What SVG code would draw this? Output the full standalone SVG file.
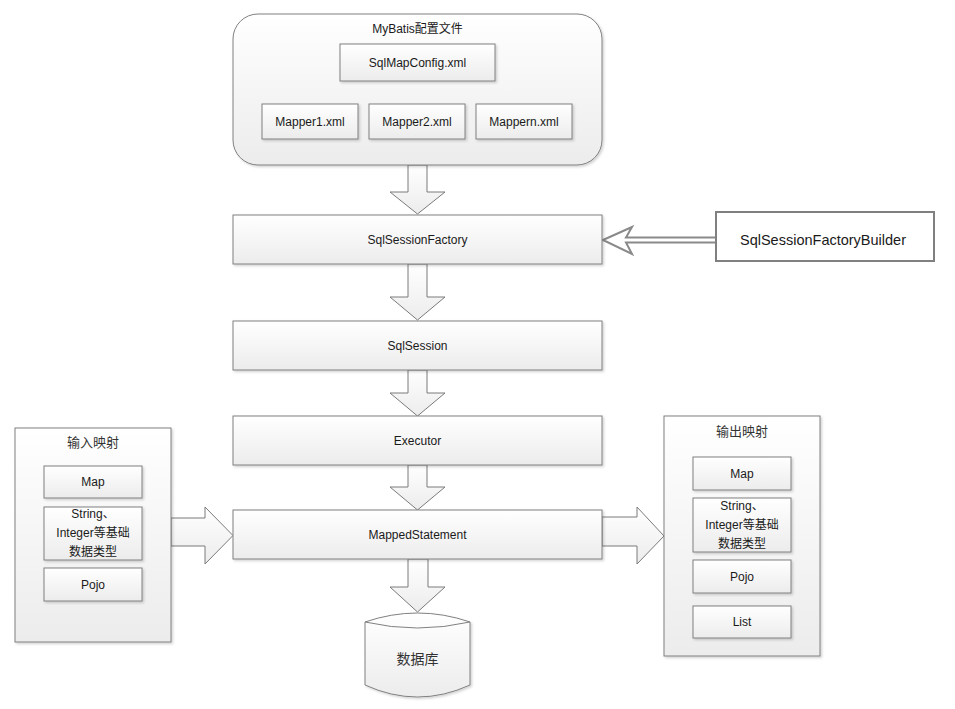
<svg xmlns="http://www.w3.org/2000/svg" width="955" height="709" viewBox="0 0 955 709">
<defs>
<linearGradient id="g" x1="0" y1="0" x2="0" y2="1">
<stop offset="0" stop-color="#ffffff"/>
<stop offset="1" stop-color="#ececec"/>
</linearGradient>
<linearGradient id="gh" x1="0" y1="0" x2="1" y2="0">
<stop offset="0" stop-color="#fdfdfd"/>
<stop offset="1" stop-color="#ededed"/>
</linearGradient>
<filter id="sh" x="-5%" y="-5%" width="115%" height="115%">
<feDropShadow dx="1.5" dy="1.5" stdDeviation="1" flood-color="#000" flood-opacity="0.18"/>
</filter>
</defs>
<style>
.box{fill:url(#g);stroke:#808080;stroke-width:1;filter:url(#sh)}
.arr{fill:url(#g);stroke:#7a7a7a;stroke-width:1;stroke-linejoin:miter}
.t{font-family:"Liberation Sans","Noto Sans CJK SC",sans-serif;font-size:12px;fill:#1a1a1a;text-anchor:middle}
.cn{font-family:"Noto Sans CJK SC","Liberation Sans",sans-serif;font-size:13px;fill:#333;text-anchor:middle}
</style>
<rect width="955" height="709" fill="#ffffff"/>

<g id="connectors">
<polygon class="arr" points="408,165 427,165 427,192 445,192 417.5,214 390,192 408,192"/>
<polygon class="arr" points="408,264 427,264 427,297 445,297 417.5,320 390,297 408,297"/>
<polygon class="arr" points="408,370 427,370 427,393 445,393 417.5,416 390,393 408,393"/>
<polygon class="arr" points="408,465 427,465 427,487 445,487 417.5,510 390,487 408,487"/>
<polygon class="arr" points="408,559 428,559 428,587 445,587 417.5,612 390,587 408,587"/>
<polygon class="arr" points="171,518 205,518 205,507 233,535.5 205,564 205,546 171,546"/>
<polygon class="arr" points="602,517 637,517 637,507 664,536 637,564 637,546 602,546"/>
<polygon points="603,240 632,227 626,237.5 716,237.5 716,242.5 626,242.5 632,254" fill="#ffffff" stroke="#8a8a8a" stroke-width="2" stroke-linejoin="miter"/>
</g>

<g id="config">
<rect class="box" x="233" y="14" width="369" height="151" rx="25" ry="25"/>
<text class="t" x="417.5" y="33">MyBatis配置文件</text>
</g>
<g id="sqlmapconfig">
<rect class="box" x="340" y="44" width="155" height="37"/>
<text class="t" x="417.5" y="67">SqlMapConfig.xml</text>
</g>
<g id="mapper1">
<rect class="box" x="262" y="104" width="96" height="35"/>
<text class="t" x="310" y="126">Mapper1.xml</text>
</g>
<g id="mapper2">
<rect class="box" x="369" y="104" width="96" height="35"/>
<text class="t" x="417" y="126">Mapper2.xml</text>
</g>
<g id="mappern">
<rect class="box" x="476" y="104" width="96" height="35"/>
<text class="t" x="524" y="126">Mappern.xml</text>
</g>

<g id="sqlsessionfactory">
<rect class="box" x="233" y="215" width="369" height="49"/>
<text class="t" x="417.5" y="244">SqlSessionFactory</text>
</g>
<g id="builder">
<rect x="716" y="212" width="218" height="49" fill="#ffffff" stroke="#808080" stroke-width="2"/>
<text class="t" x="823" y="245" style="font-size:14.5px">SqlSessionFactoryBuilder</text>
</g>
<g id="sqlsession">
<rect class="box" x="233" y="321" width="369" height="49"/>
<text class="t" x="417.5" y="350">SqlSession</text>
</g>
<g id="executor">
<rect class="box" x="233" y="416" width="369" height="49"/>
<text class="t" x="417.5" y="445">Executor</text>
</g>
<g id="mappedstatement">
<rect class="box" x="233" y="510" width="369" height="49"/>
<text class="t" x="417.5" y="539">MappedStatement</text>
</g>

<g id="database">
<path d="M365,622 Q417.5,604 470,622 L470,685 Q417.5,709 365,685 Z" fill="url(#g)" stroke="#808080" stroke-width="1" filter="url(#sh)"/>
<path d="M365,622 Q417.5,634 470,622" fill="none" stroke="#808080" stroke-width="1"/>
<text class="cn" x="417.5" y="664" style="font-size:14px">数据库</text>
</g>

<g id="input">
<rect class="box" x="15" y="428" width="156" height="214"/>
<text class="cn" x="93" y="447">输入映射</text>
</g>
<g id="in-map">
<rect class="box" x="44" y="466" width="98" height="32"/>
<text class="t" x="93" y="486">Map</text>
</g>
<g id="in-string">
<rect class="box" x="44" y="507" width="98" height="53"/>
<text class="t" x="93" y="518">String、</text>
<text class="t" x="93" y="537">Integer等基础</text>
<text class="t" x="93" y="556">数据类型</text>
</g>
<g id="in-pojo">
<rect class="box" x="44" y="568" width="98" height="33"/>
<text class="t" x="93" y="589">Pojo</text>
</g>

<g id="output">
<rect class="box" x="664" y="416" width="156" height="240"/>
<text class="cn" x="742" y="436">输出映射</text>
</g>
<g id="out-map">
<rect class="box" x="693" y="457" width="98" height="33"/>
<text class="t" x="742" y="478">Map</text>
</g>
<g id="out-string">
<rect class="box" x="693" y="498" width="98" height="54"/>
<text class="t" x="742" y="510">String、</text>
<text class="t" x="742" y="529">Integer等基础</text>
<text class="t" x="742" y="548">数据类型</text>
</g>
<g id="out-pojo">
<rect class="box" x="693" y="560" width="98" height="33"/>
<text class="t" x="742" y="581">Pojo</text>
</g>
<g id="out-list">
<rect class="box" x="693" y="606" width="98" height="32"/>
<text class="t" x="742" y="626">List</text>
</g>
</svg>
